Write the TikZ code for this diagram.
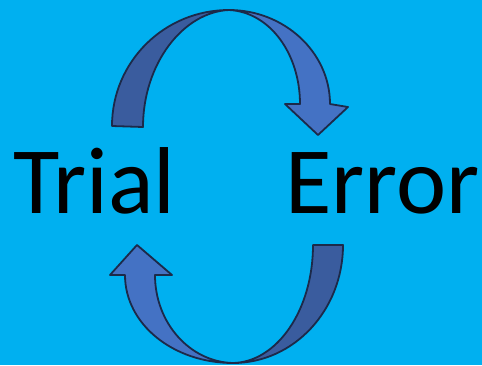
\documentclass[tikz,border=0pt]{standalone}
\usepackage{fontspec}
\setmainfont{Carlito}
\usetikzlibrary{positioning}
\definecolor{skyback}{HTML}{00B0F0}
\definecolor{arrowdark}{HTML}{3A5C9E}
\definecolor{arrowlight}{HTML}{4472C4}
\definecolor{arrowline}{HTML}{1C2A4A}
\tikzset{x=1pt, y=-1pt,
    word/.style={anchor=base west, inner sep=0pt, font=\fontsize{95}{100}\selectfont},
    halfdark/.style={fill=arrowdark, draw=arrowline, line width=1.8pt, line join=round},
    halflight/.style={fill=arrowlight, draw=arrowline, line width=1.8pt, line join=round}}

\begin{document}
\begin{tikzpicture}
\fill[skyback] (0,0) rectangle (482,365);
\useasboundingbox (0,0) rectangle (482,365);

% upper arrow
\draw[halfdark] (112,126) .. controls (112,62) and (164,10) .. (229,10)
	.. controls (183,12) and (143,64) .. (143,127) -- cycle;
\draw[halflight] (229,10) .. controls (284,10) and (330,52) .. (330,104)
	-- (348,107) -- (318,135) -- (285,104) -- (300,104)
	.. controls (300,54) and (270,12) .. (229,10) -- cycle;

% lower arrow
\draw[halfdark] (343,245) .. controls (343,310) and (294,363) .. (233,363)
	.. controls (277,362) and (313,310) .. (313,245) -- cycle;
\draw[halflight] (233,363) .. controls (173,363) and (125,324) .. (125,275)
	-- (110,275) -- (137,245) -- (172,275) -- (155,275)
	.. controls (155,323) and (190,362) .. (233,363) -- cycle;

\node[word] (trial) at (13,213) {Trial};
\node[word] (error) at (285,213) {Error};
\end{tikzpicture}
\end{document}
